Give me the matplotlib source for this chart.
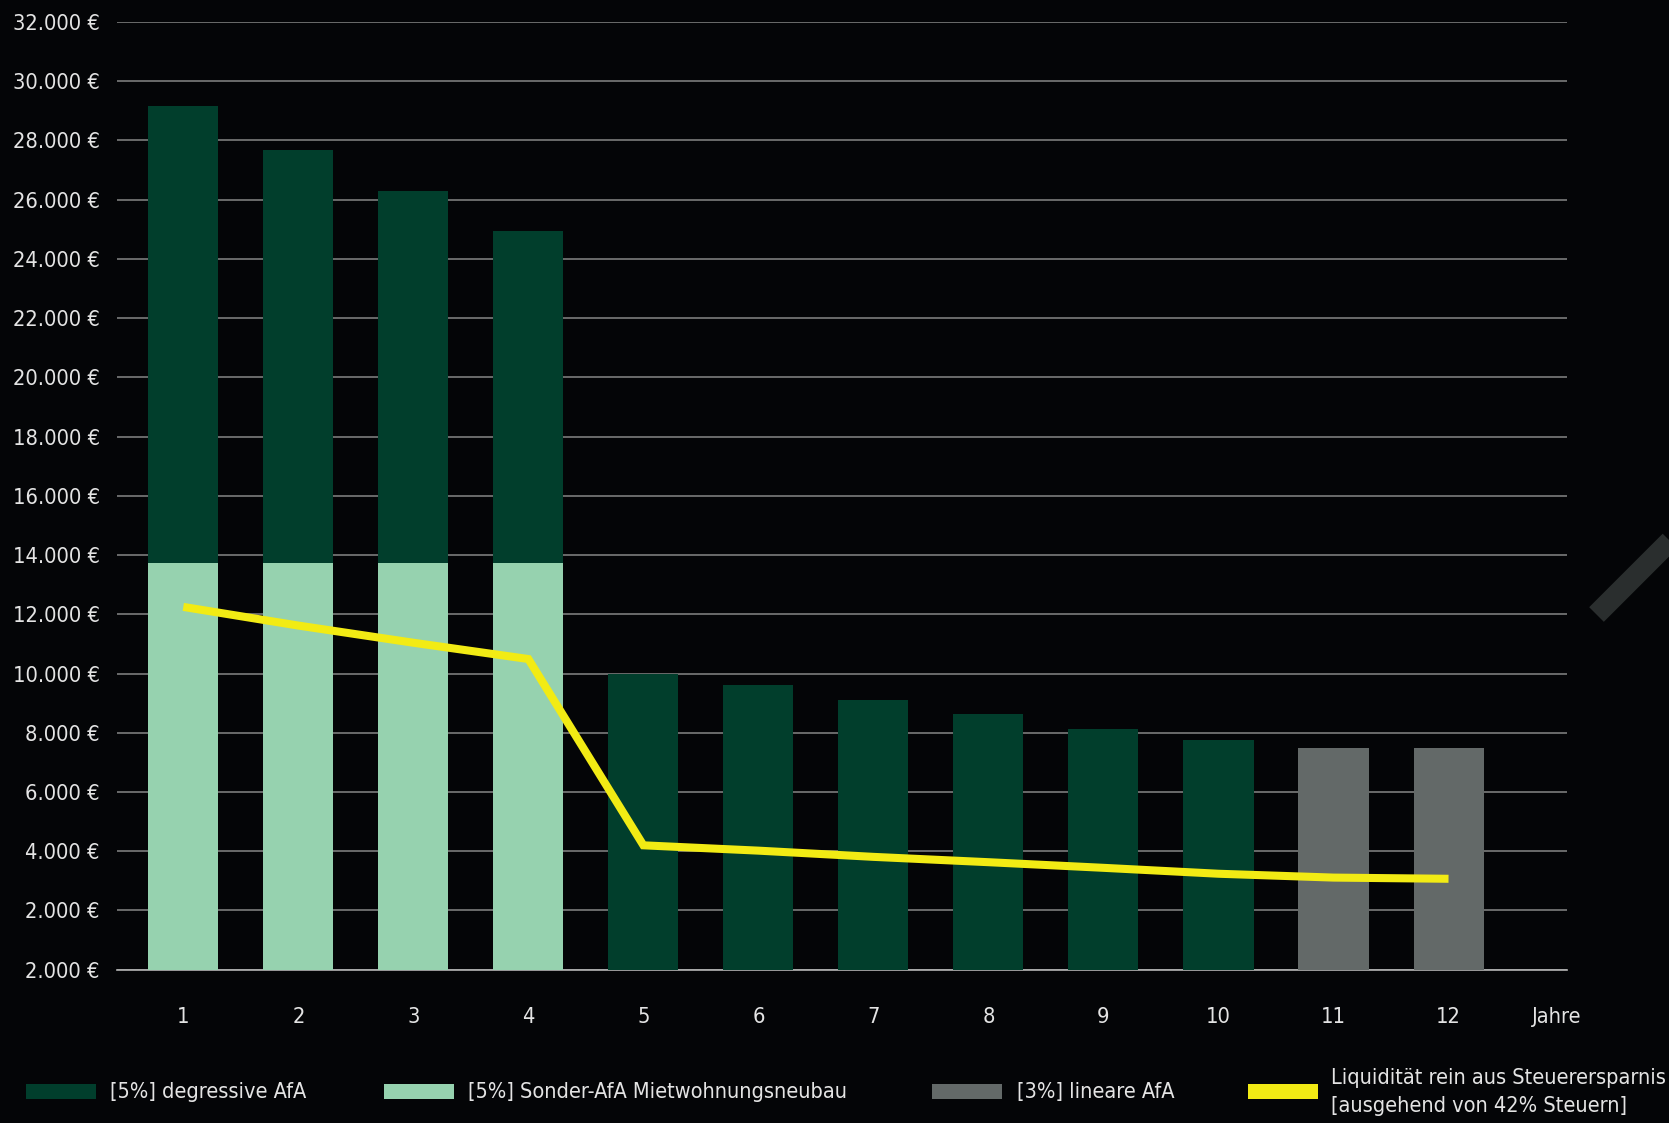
import matplotlib
matplotlib.use("Agg")
import matplotlib.pyplot as plt
from matplotlib import font_manager
from matplotlib.patches import Rectangle
from matplotlib.lines import Line2D
import numpy as np

# ---------------- data ----------------
years = [1, 2, 3, 4, 5, 6, 7, 8, 9, 10, 11, 12]
year_labels = ["1", "2", "3", "4", "5", "6", "7", "8", "9", "10", "11", "12"]
sonder_afa = [13740, 13740, 13740, 13740, 0, 0, 0, 0, 0, 0, 0, 0]
degressive_afa = [15410, 13930, 12550, 11190, 10000, 9620, 9090, 8650, 8130, 7740, 0, 0]
lineare_afa = [0, 0, 0, 0, 0, 0, 0, 0, 0, 0, 7500, 7470]
liquiditaet = [12250, 11620, 11040, 10490, 4200, 4020, 3810, 3630, 3440, 3240, 3110, 3070]
y_ticks = list(range(0, 32001, 2000))
y_tick_labels = ["2.000 €", "2.000 €", "4.000 €", "6.000 €", "8.000 €", "10.000 €",
                 "12.000 €", "14.000 €", "16.000 €", "18.000 €", "20.000 €", "22.000 €",
                 "24.000 €", "26.000 €", "28.000 €", "30.000 €", "32.000 €"]
axis_unit_label = "Jahre"
legend_labels = ["[5%] degressive AfA", "[5%] Sonder-AfA Mietwohnungsneubau",
                 "[3%] lineare AfA", "Liquidität rein aus Steuerersparnis\n[ausgehend von 42% Steuern]"]

# ---------------- font choice ----------------
entries = font_manager.fontManager.ttflist
narrow = [f for f in entries
          if f.stretch in ("condensed", "semi-condensed", "extra-condensed", "ultra-condensed")
          or "Narrow" in f.name or "Condensed" in f.name]
if narrow:
    FAM = narrow[0].name
    STRETCH = narrow[0].stretch
    WEIGHT = "normal"
else:
    names = {f.name for f in entries}
    FAM = "Roboto" if "Roboto" in names else "DejaVu Sans"
    STRETCH = "normal"
    WEIGHT = "light"
plt.rcParams["font.family"] = [FAM, "DejaVu Sans"]

BG = "#040507"
DARK = "#013e2c"
LIGHT = "#96d2af"
GRAY = "#636968"
YELLOW = "#f2eb14"
TXT = "#e4e4e4"

W, H = 1669, 1123
fig = plt.figure(figsize=(W / 100, H / 100), dpi=100, facecolor=BG)
renderer = fig.canvas.get_renderer()


def fit_size(s, target_px, max_size):
    t = fig.text(0, 0, s, fontsize=10, fontweight=WEIGHT, fontstretch=STRETCH)
    w = t.get_window_extent(renderer).width
    t.remove()
    return min(max_size, 10 * target_px / w)


ysize = fit_size("32.000 €", 87, 23)
xsize = fit_size("Jahre", 50, 26)
lsize = fit_size("[5%] Sonder-AfA Mietwohnungsneubau", 380, 20)

ax = fig.add_axes([117 / W, 153.3 / H, 1450 / W, 947.7 / H])
ax.set_facecolor(BG)

x = np.array(years, dtype=float)
bw = 0.609
ax.bar(x, sonder_afa, width=bw, color=LIGHT, zorder=2, linewidth=0)
ax.bar(x, degressive_afa, width=bw, bottom=sonder_afa, color=DARK, zorder=2, linewidth=0)
ax.bar(x, lineare_afa, width=bw, color=GRAY, zorder=2, linewidth=0)
ax.plot(x, liquiditaet, color=YELLOW, lw=5.8, solid_capstyle="butt",
        solid_joinstyle="miter", zorder=3)

ax.set_xlim(0.4235, 13.03)
ax.set_ylim(0, 32000)
ax.set_yticks(y_ticks)
ax.set_yticklabels(y_tick_labels, fontsize=ysize, color=TXT, fontweight=WEIGHT,
                   fontstretch=STRETCH)
ax.set_xticks(years + [12.94])
ax.set_xticklabels(year_labels + [axis_unit_label], fontsize=xsize, color=TXT,
                   fontweight=WEIGHT, fontstretch=STRETCH)
ax.tick_params(axis="both", length=0)
ax.tick_params(axis="y", pad=12.5)
ax.tick_params(axis="x", pad=27)

ax.yaxis.grid(True, color="#7c7c7c", lw=1.2, zorder=0)
ax.set_axisbelow(True)
for s in ["top", "right", "left"]:
    ax.spines[s].set_visible(False)
ax.spines["bottom"].set_color("#b5b5b5")
ax.spines["bottom"].set_linewidth(1.2)
ax.spines["bottom"].set_zorder(1)

# ---------------- legend (manual) ----------------
legend_colors = [DARK, LIGHT, GRAY, YELLOW]
patch_x = [26, 384, 932, 1247.5]
text_x = [110, 468, 1016.5, 1330.5]
py0, py1 = 1084, 1099
for col, px, tx, lab in zip(legend_colors, patch_x, text_x, legend_labels):
    fig.add_artist(Rectangle((px / W, 1 - py1 / H), 70 / W, (py1 - py0) / H,
                             transform=fig.transFigure, facecolor=col, edgecolor="none"))
    fig.text(tx / W, 1 - 1092 / H, lab, color=TXT, fontsize=lsize, ha="left",
             va="center", linespacing=1.45, fontweight=WEIGHT, fontstretch=STRETCH)

# decorative diagonal stroke at the right edge
x0, y0 = 1596.5, 614.5
x1, y1 = 1716.5, 494.5
fig.add_artist(Line2D([x0 / W, x1 / W], [1 - y0 / H, 1 - y1 / H], transform=fig.transFigure,
                      color="#2a2e2e", lw=14.9, solid_capstyle="butt"))

fig.savefig("out.png", dpi=100, facecolor=BG)
